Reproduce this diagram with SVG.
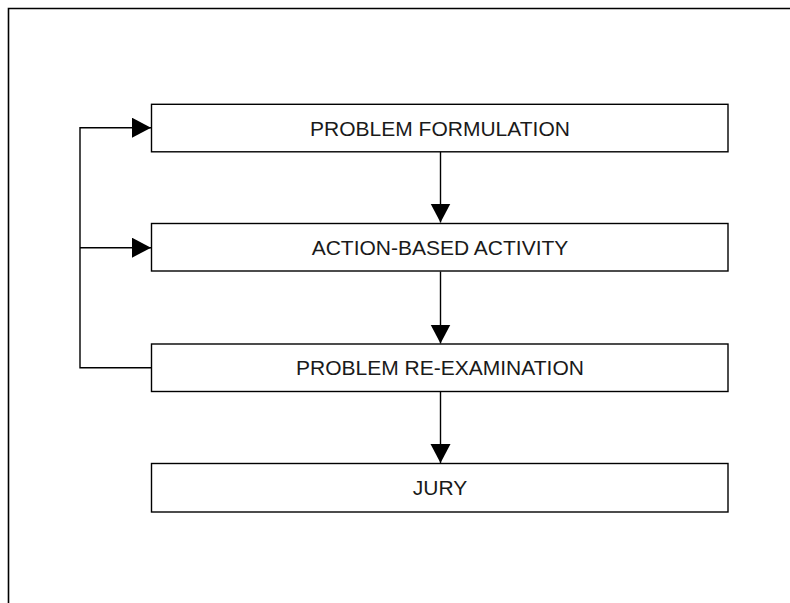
<svg xmlns="http://www.w3.org/2000/svg" width="790" height="603" viewBox="0 0 790 603">
<style>
.box{fill:#fff;stroke:#000;stroke-width:1.4}
.lbl{font-family:"Liberation Sans",Arial,sans-serif;font-size:21px;fill:#1a1a1a;text-anchor:middle}
.ln{fill:none;stroke:#000;stroke-width:1.4}
</style>
<defs>
<marker id="ah" markerUnits="userSpaceOnUse" markerWidth="20" markerHeight="22" refX="19" refY="10" orient="auto">
<polygon points="0,0 19,10 0,20" fill="#000"/>
</marker>
</defs>
<rect x="0" y="0" width="790" height="603" fill="#fff"/>
<path d="M8.5,603 V8.5 H790" fill="none" stroke="#000" stroke-width="1.6"/>
<g id="connectors">
<line class="ln" x1="440.5" y1="151.5" x2="440.5" y2="222.5" marker-end="url(#ah)"/>
<line class="ln" x1="440.5" y1="271.5" x2="440.5" y2="343.5" marker-end="url(#ah)"/>
<line class="ln" x1="440.5" y1="391.5" x2="440.5" y2="463" marker-end="url(#ah)"/>
<path class="ln" d="M151.5,367.7 H80 V127.7 H151" marker-end="url(#ah)"/>
<line class="ln" x1="80" y1="247.7" x2="151" y2="247.7" marker-end="url(#ah)"/>
</g>
<g id="n1"><rect class="box" x="151.5" y="104.3" width="576.5" height="47.5"/><text class="lbl" x="440" y="135.5">PROBLEM FORMULATION</text></g>
<g id="n2"><rect class="box" x="151.5" y="223.5" width="576.5" height="47.5"/><text class="lbl" x="440" y="255">ACTION-BASED ACTIVITY</text></g>
<g id="n3"><rect class="box" x="151.5" y="344" width="576.5" height="47.5"/><text class="lbl" x="440" y="375">PROBLEM RE-EXAMINATION</text></g>
<g id="n4"><rect class="box" x="151.5" y="463.5" width="576.5" height="48.5"/><text class="lbl" x="440" y="494.5">JURY</text></g>
</svg>
